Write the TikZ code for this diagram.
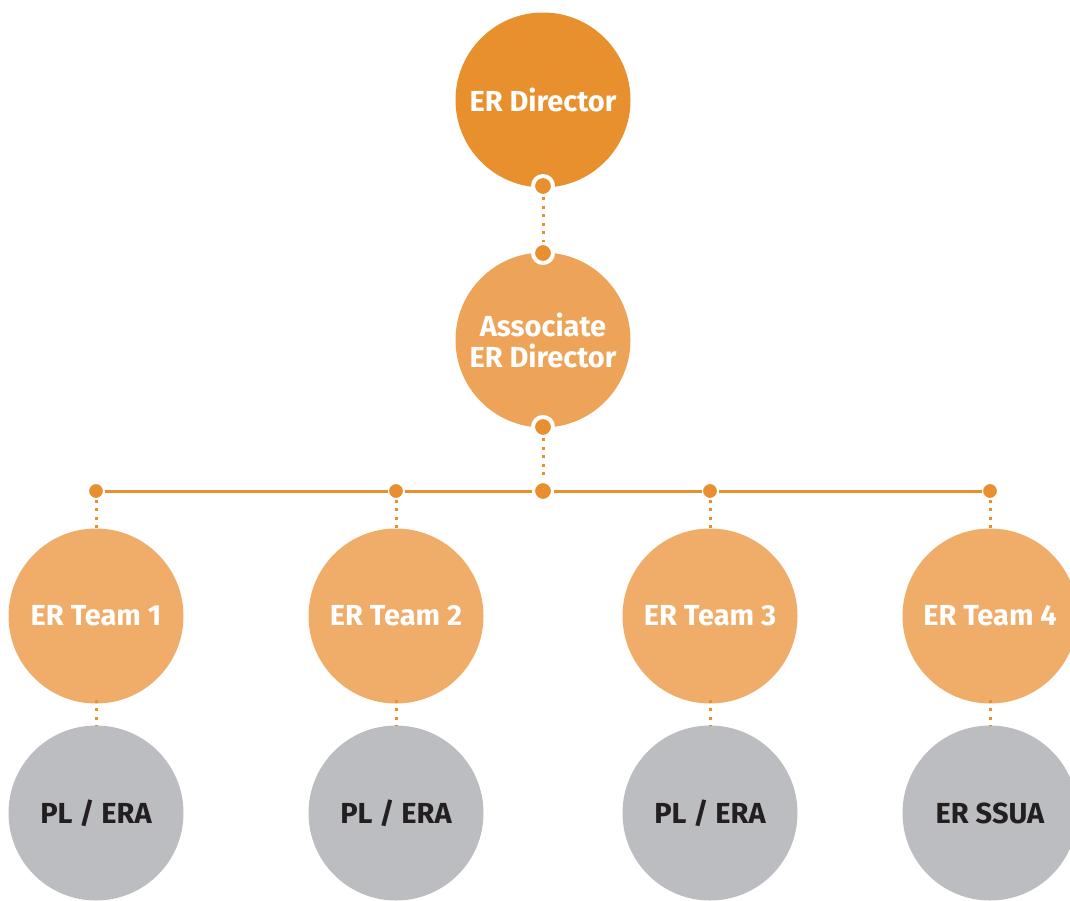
\documentclass[tikz,border=0pt]{standalone}
\usepackage{fontspec}
\setmainfont{Fira Sans}
\definecolor{dirorange}{HTML}{E88F2E}
\definecolor{assocorange}{HTML}{EDA459}
\definecolor{teamorange}{HTML}{F0AC69}
\definecolor{dotorange}{HTML}{E8902F}
\definecolor{rolegrey}{HTML}{BCBDC1}
\definecolor{roletext}{HTML}{231F20}
\begin{document}
\begin{tikzpicture}[x=1pt, y=-1pt]
    \tikzstyle{every node}=[font=\bfseries\fontsize{29}{31}\selectfont, align=center];
    \tikzstyle{unit}=[circle, minimum size=175pt, inner sep=0pt, text=white];
    \tikzstyle{ringdot}=[circle, fill=dotorange, draw=white, line width=4pt, minimum size=20pt, inner sep=0pt, outer sep=1pt];
    \tikzstyle{smalldot}=[circle, fill=dotorange, draw=white, line width=3pt, minimum size=17pt, inner sep=0pt, outer sep=0pt];
    \tikzstyle{dotline}=[dotorange, line width=3pt, dash pattern=on 3pt off 5.5pt];
    \tikzstyle{barline}=[dotorange, line width=3pt];

    \useasboundingbox (0,0) rectangle (1070,900);
    \clip (0,0) rectangle (1070,900);

    % director and associate
    \node[unit, fill=dirorange] (director) at (543,100) {ER Director};
    \node[unit, fill=assocorange] (associate) at (543,340) {Associate\\ER Director};
    \node[ringdot] (dirdot) at (543,186) {};
    \node[ringdot] (assocdot) at (543,253) {};
    \node[ringdot] (assocdown) at (543,427) {};
    \node[ringdot] (bardot) at (543,491) {};
    \draw[dotline] (dirdot) -- (assocdot);
    \draw[dotline] (assocdown) -- (bardot);

    % teams
    \foreach \x/\n/\role in {96/1/{PL / ERA}, 396/2/{PL / ERA}, 710/3/{PL / ERA}, 990/4/{ER SSUA}}{
        \node[unit, fill=teamorange] (team\n) at (\x,616) {ER Team \n};
        \node[unit, fill=rolegrey, text=roletext] (role\n) at (\x,813) {\role};
        \node[smalldot] (teamdot\n) at (\x,491) {};
        \draw[dotline] (teamdot\n) -- (team\n);
        \draw[dotline] ([yshift=4pt]team\n.south) -- (role\n);
    }

    % bar
    \draw[barline] (teamdot1) -- (teamdot2);
    \draw[barline] (teamdot2) -- (bardot);
    \draw[barline] (bardot) -- (teamdot3);
    \draw[barline] (teamdot3) -- (teamdot4);
\end{tikzpicture}
\end{document}
